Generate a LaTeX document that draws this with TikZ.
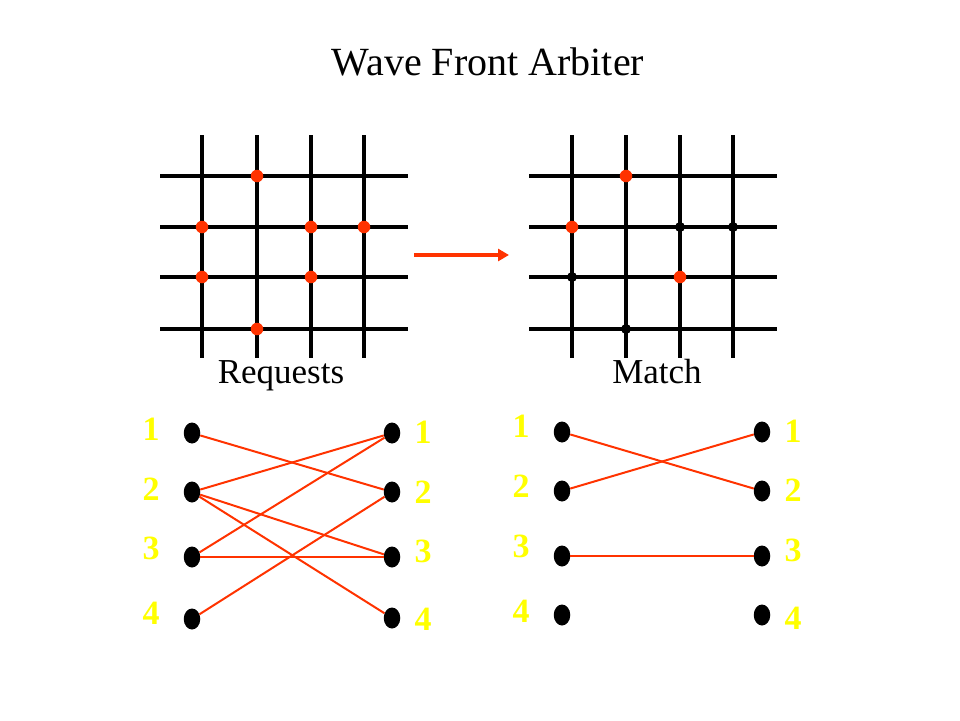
\documentclass[tikz,border=0pt]{standalone}
\usepackage{fontspec}
\setmainfont{Liberation Serif}
\usetikzlibrary{arrows.meta,shapes.geometric}

\definecolor{wfred}{RGB}{255,51,0}
\definecolor{wfyellow}{RGB}{255,255,0}

\begin{document}
\begin{tikzpicture}[x=1pt,y=-1pt,>={Triangle[length=11pt,width=12pt]},
    wire/.style={line width=4pt},
    req/.style={circle,fill=wfred,inner sep=0pt,minimum size=12.5pt},
    grant/.style={circle,fill=black,inner sep=0pt,minimum size=10pt},
    port/.style={ellipse,fill=black,inner sep=0pt,minimum width=16.5pt,minimum height=21pt},
    num/.style={text=wfyellow,font=\fontsize{34}{34}\selectfont\bfseries},
    link/.style={wfred,line width=2pt}]
  \useasboundingbox (0,0) rectangle (960,720);

  \node[anchor=base,font=\fontsize{40}{40}\selectfont] (title) at (488,75) {Wave Front Arbiter};

  % request grid
  \foreach \x in {202,257,311,364}
    \draw[wire] (\x,135) -- (\x,358);
  \foreach \y in {176,227,277,329}
    \draw[wire] (160,\y) -- (408,\y);
  \foreach \x/\y [count=\i] in {257/176,202/227,311/227,364/227,202/277,311/277,257/329}
    \node[req] (rq\i) at (\x,\y) {};
  \node[anchor=base,font=\fontsize{35}{35}\selectfont] (requests) at (281,383) {Requests};

  % match grid
  \foreach \x in {572,626,680,733}
    \draw[wire] (\x,135) -- (\x,358);
  \foreach \y in {176,227,277,329}
    \draw[wire] (529,\y) -- (777,\y);
  \foreach \x/\y [count=\i] in {626/176,572/227,680/277}
    \node[req] (mr\i) at (\x,\y) {};
  \foreach \x/\y [count=\i] in {680/227,733/227,572/277,626/329}
    \node[grant] (mb\i) at (\x,\y) {};
  \node[anchor=base,font=\fontsize{35}{35}\selectfont] (match) at (657,383) {Match};

  \coordinate (from) at (414,255);
  \coordinate (to) at (509,255);
  \draw[->,wfred,line width=4pt] (from) -- (to);

  % request graph
  \foreach \i/\y/\ly in {1/433/429,2/492/489,3/557/548,4/619/613} {
    \node[port] (ql\i) at (192,\y) {};
    \node[num] (qnl\i) at (151,\ly) {\i};
  }
  \foreach \i/\y/\ly in {1/433/432,2/492/492,3/557/551,4/618/619} {
    \node[port] (qr\i) at (392,\y) {};
    \node[num] (qnr\i) at (423,\ly) {\i};
  }
  \path[link]
    (ql1) edge (qr2)
    (ql2) edge (qr1)
    (ql2) edge (qr3)
    (ql2) edge (qr4)
    (ql3) edge (qr1)
    (ql3) edge (qr3)
    (ql4) edge (qr2)
    ;

  % match graph
  \foreach \i/\y/\ly in {1/432/426,2/491/486,3/556/546,4/615/611} {
    \node[port] (gl\i) at (562,\y) {};
    \node[num] (gnl\i) at (521,\ly) {\i};
  }
  \foreach \i/\y/\ly in {1/432/431,2/491/490,3/556/550,4/615/618} {
    \node[port] (gr\i) at (762,\y) {};
    \node[num] (gnr\i) at (793,\ly) {\i};
  }
  \path[link]
    (gl1) edge (gr2)
    (gl2) edge (gr1)
    (gl3) edge (gr3)
    ;
\end{tikzpicture}
\end{document}
